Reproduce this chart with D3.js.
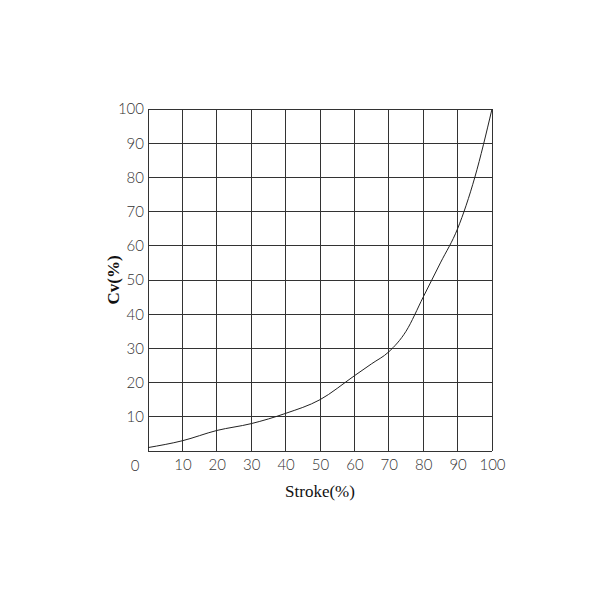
<!DOCTYPE html>
<html lang="en">
<head>
<meta charset="utf-8">
<script src="https://d3js.org/d3.v7.min.js"></script>
<style>
body { margin: 0; background: #fff; }
.tick text { font: 300 15px Lato, sans-serif; fill: #333; }
.title { font-family: "Liberation Serif", serif; font-size: 17px; fill: #111; }
</style>
</head>
<body>
<script>
var strokePct = [0, 10, 20, 30, 40, 50, 60, 65, 70, 75, 80, 85, 90, 95, 100];
var cvPct     = [1, 3, 6, 8, 11, 15, 22, 25.5, 29, 35, 45, 55, 65, 80, 100];
var xTicks = [10, 20, 30, 40, 50, 60, 70, 80, 90, 100];
var yTicks = [10, 20, 30, 40, 50, 60, 70, 80, 90, 100];

var pLeft = 148, pRight = 492, pTop = 109, pBottom = 451;
var svg = d3.select("body").append("svg").attr("width", 600).attr("height", 600);
var x = d3.scaleLinear().domain([0, 100]).range([pLeft, pRight]);
var y = d3.scaleLinear().domain([0, 100]).range([pBottom, pTop]);

var grid = svg.append("g").attr("stroke", "#333").attr("stroke-width", 1).attr("shape-rendering", "crispEdges");
grid.selectAll(".v").data([0].concat(xTicks)).enter().append("line")
  .attr("x1", d => x(d)).attr("x2", d => x(d)).attr("y1", pTop).attr("y2", pBottom);
grid.selectAll(".h").data([0].concat(yTicks)).enter().append("line")
  .attr("y1", d => y(d)).attr("y2", d => y(d)).attr("x1", pLeft).attr("x2", pRight);

svg.append("g").attr("transform", "translate(0," + (pBottom + 2) + ")")
  .call(d3.axisBottom(x).tickValues(xTicks).tickSize(0).tickPadding(6))
  .call(g => g.select(".domain").remove());
svg.append("g").attr("transform", "translate(" + (pLeft - 4) + ",0)")
  .call(d3.axisLeft(y).tickValues(yTicks).tickSize(0).tickPadding(0))
  .call(g => g.select(".domain").remove());
svg.append("text").attr("x", 135).attr("y", pBottom + 20)
  .attr("text-anchor", "middle").style("font", "300 15px Lato, sans-serif").style("fill", "#333").text("0");

var line = d3.line().x((d, i) => x(strokePct[i])).y(d => y(d)).curve(d3.curveMonotoneX);
svg.append("path").datum(cvPct).attr("d", line)
  .attr("fill", "none").attr("stroke", "#222").attr("stroke-width", 1);

svg.append("text").attr("class", "title").attr("x", 320).attr("y", 497)
  .attr("text-anchor", "middle").text("Stroke(%)");
svg.append("text").attr("class", "title").attr("transform", "translate(119,280) rotate(-90)")
  .attr("text-anchor", "middle").style("font-weight", "bold").text("Cv(%)");
</script>
</body>
</html>
